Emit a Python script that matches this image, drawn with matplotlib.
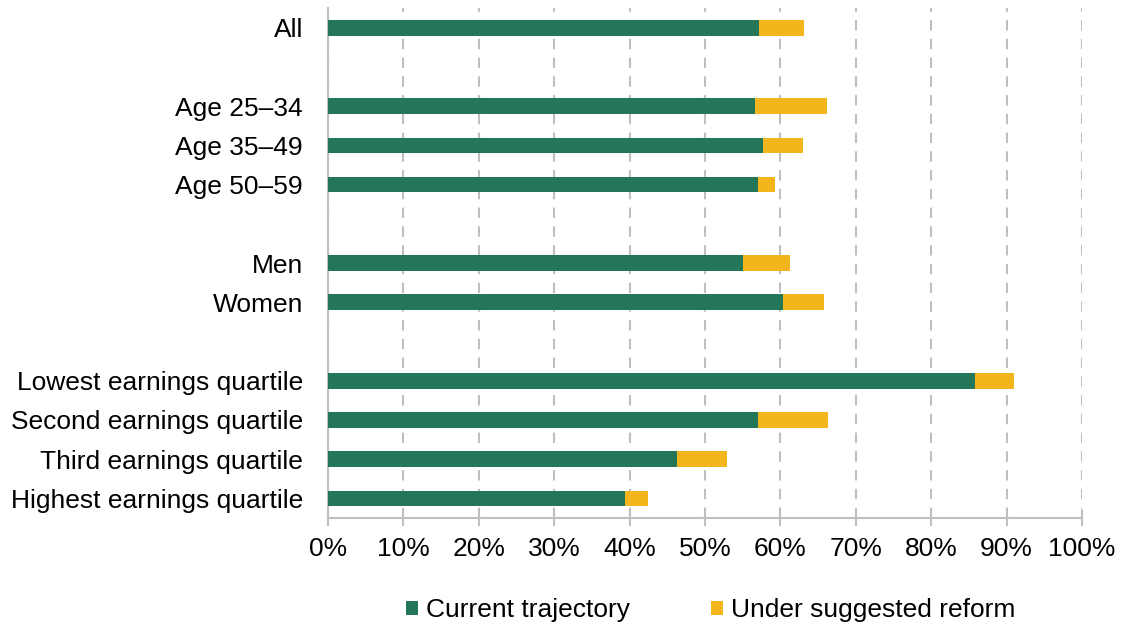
import matplotlib
matplotlib.use("Agg")
import matplotlib.pyplot as plt
import numpy as np

plt.rcParams['font.family'] = ['Liberation Sans', 'DejaVu Sans']

categories = ["All", "", "Age 25–34", "Age 35–49", "Age 50–59", "", "Men", "Women", "",
              "Lowest earnings quartile", "Second earnings quartile",
              "Third earnings quartile", "Highest earnings quartile"]
current = [57.2, None, 56.6, 57.7, 57.0, None, 55.0, 60.3, None, 85.8, 57.0, 46.3, 39.4]
reform_total = [63.1, None, 66.2, 63.0, 59.3, None, 61.3, 65.8, None, 91.0, 66.3, 52.9, 42.4]
xticks = [0, 10, 20, 30, 40, 50, 60, 70, 80, 90, 100]

green = "#237657"
yellow = "#F2B61C"

fig = plt.figure(figsize=(11.21, 6.28), dpi=100)
ax = fig.add_axes([0.2926, 0.1752, 0.9652 - 0.2926, 0.987 - 0.1752])

ys = []; cur = []; extra = []
for i, (c, r) in enumerate(zip(current, reform_total)):
    if c is None:
        continue
    ys.append(i); cur.append(c); extra.append(r - c)
ys = np.array(ys)
ax.barh(ys, cur, height=0.4, color=green, label="Current trajectory", zorder=3)
ax.barh(ys, extra, left=cur, height=0.4, color=yellow, label="Under suggested reform", zorder=3)

ax.set_ylim(12.5, -0.5)
ax.set_xlim(0, 100)
ax.set_yticks(range(len(categories)))
ax.set_yticklabels(categories, fontsize=19)
ax.set_xticks(xticks)
ax.set_xticklabels([f"{t}%" for t in xticks], fontsize=19)
ax.tick_params(axis='y', length=0, pad=18)
ax.tick_params(axis='x', direction='inout', length=12, color='#BFBFBF', width=1.5, pad=8)

for s in ['top', 'right']:
    ax.spines[s].set_visible(False)
ax.spines['left'].set_color('#BFBFBF')
ax.spines['left'].set_linewidth(1.5)
ax.spines['bottom'].set_color('#BFBFBF')
ax.spines['bottom'].set_linewidth(1.5)
ax.xaxis.grid(True, linestyle=(0, (5, 4)), color='#BFBFBF', linewidth=1.5, zorder=0)
ax.set_axisbelow(True)

fig.legend(loc='center', bbox_to_anchor=(0.634, 0.028), ncol=2, frameon=False,
           fontsize=19, handlelength=0.45, handleheight=0.45, handletextpad=0.3,
           columnspacing=3.1)

fig.savefig("out.png", dpi=100)
